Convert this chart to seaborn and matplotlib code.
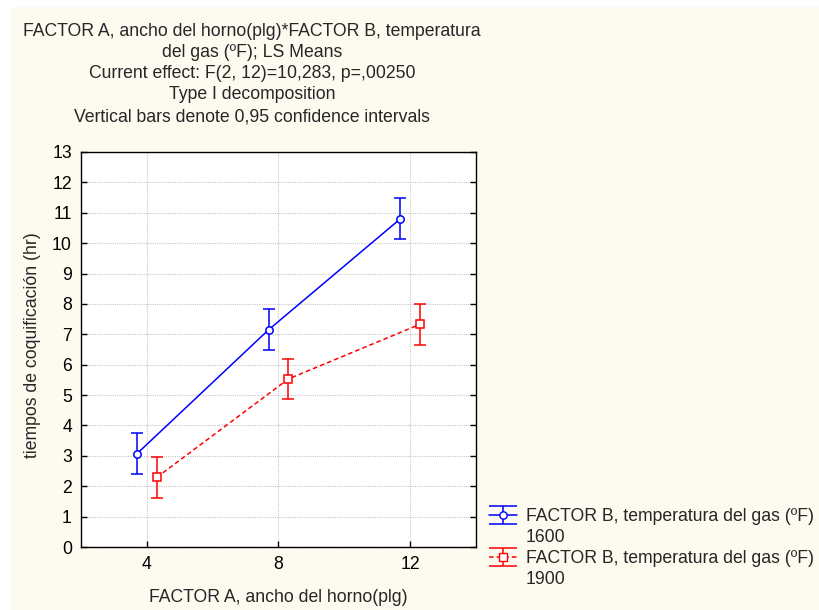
import numpy as np
import pandas as pd
import seaborn as sns
import matplotlib
matplotlib.use("Agg")
import matplotlib.pyplot as plt
from matplotlib.patches import Rectangle
from matplotlib.lines import Line2D

# --- data ---
ancho = ["4", "8", "12"]
temperaturas = ["1600", "1900"]
medias_1600 = [3.07, 7.15, 10.80]
medias_1900 = [2.29, 5.53, 7.33]
ic_1600 = [0.67, 0.67, 0.67]
ic_1900 = [0.67, 0.67, 0.67]

titulo = ["FACTOR A, ancho del horno(plg)*FACTOR B, temperatura",
          "del gas (ºF); LS Means",
          "Current effect: F(2, 12)=10,283, p=,00250",
          "Type I decomposition",
          "Vertical bars denote 0,95 confidence intervals"]

df = pd.DataFrame({
    "ancho": ancho * 2,
    "temp": [temperaturas[0]] * 3 + [temperaturas[1]] * 3,
    "media": medias_1600 + medias_1900,
    "ic": ic_1600 + ic_1900,
})

colores = {"1600": "#0000FF", "1900": "#FF0000"}
marcas = {"1600": "o", "1900": "s"}
estilos = {"1600": "-", "1900": (0, (3, 2))}
crema = "#FDFAF0"
fs = 12.7

sns.set_theme(style="white")
plt.rcParams["font.family"] = ["Liberation Sans", "DejaVu Sans"]
plt.rcParams["font.size"] = fs

fig = plt.figure(figsize=(8.2, 6.1), dpi=100, facecolor="white")
fig.patches.append(Rectangle((11 / 820, 0), 1, 1 - 7 / 610, transform=fig.transFigure,
                             facecolor=crema, edgecolor="none", zorder=-10))
ax = fig.add_axes([81 / 820, 1 - 547 / 610, 395 / 820, 395 / 610])
ax.set_facecolor("white")

sns.pointplot(data=df, x="ancho", y="media", hue="temp", order=ancho, hue_order=temperaturas,
              palette=colores, markers=[marcas[t] for t in temperaturas],
              linestyles=[estilos[t] for t in temperaturas], dodge=0.15, errorbar=None,
              markersize=5.3, linewidth=1.1, ax=ax, legend=False)

# markers hollow, then error bars at the same dodged positions
for linea, t in zip(ax.lines[:2], temperaturas):
    linea.set_markerfacecolor("white")
    linea.set_markeredgewidth(1.1)
    linea.set_zorder(4)
    sub = df[df["temp"] == t]
    ax.errorbar(linea.get_xdata(), sub["media"], yerr=sub["ic"], fmt="none",
                ecolor=colores[t], elinewidth=1.1, capsize=4.5, capthick=1.1, zorder=3)

ax.set_xlim(-0.5, 2.5)
ax.set_ylim(0, 13)
ax.set_yticks(range(0, 14))
ax.grid(True, color="#c8c8c8", linestyle=(0, (1, 1)), linewidth=0.8)
ax.set_axisbelow(True)
for s in ax.spines.values():
    s.set_color("black")
    s.set_linewidth(1.0)
ax.tick_params(axis="both", direction="in", length=4, width=1, color="black",
               labelsize=fs, labelcolor="black", pad=6.5, right=True, left=True, bottom=True)
ax.set_xlabel("")
ax.set_ylabel("")

# title lines, one text per line (centres)
for linea_txt, y in zip(titulo, [29, 50.5, 71.5, 92.5, 115]):
    fig.text(252 / 820, 1 - y / 610, linea_txt, ha="center", va="center_baseline", fontsize=fs)
fig.text(33 / 820, 1 - 345 / 610, "tiempos de coquificación (hr)", rotation=90,
         ha="center", va="center", fontsize=fs)
fig.text(278 / 820, 1 - 597 / 610, "FACTOR A, ancho del horno(plg)", ha="center", va="center",
         fontsize=fs)

# legend with error-bar glyphs; second line of each label gets an empty handle
manijas, etiquetas = [], []
for t in temperaturas:
    h = ax.errorbar([np.nan], [np.nan], yerr=[1], fmt=marcas[t], color=colores[t],
                    linestyle=estilos[t], mfc="white", ms=5.3, lw=1.1, capsize=10, capthick=1.1)
    manijas += [h, Line2D([], [], linestyle="none")]
    etiquetas += ["FACTOR B, temperatura del gas (ºF)", t]
fig.legend(manijas, etiquetas, loc="upper left", bbox_to_anchor=(489 / 820, 1 - 508 / 610),
           frameon=False, fontsize=fs, handlelength=1.6, handletextpad=0.5,
           labelspacing=0.23, borderaxespad=0, borderpad=0)

fig.savefig("out.png", dpi=100, facecolor="white")
